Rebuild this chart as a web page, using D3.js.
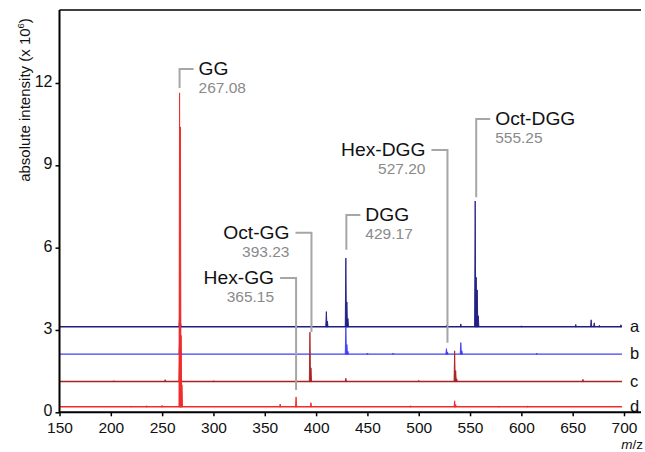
<!DOCTYPE html>
<html>
<head>
<meta charset="utf-8">
<script src="https://cdn.jsdelivr.net/npm/d3@7"></script>
<style>
  body { margin: 0; background: #fff; }
  svg { font-family: "Liberation Sans", Arial, sans-serif; }
  .trace { fill: none; stroke-width: 1.4; }
  .peak { stroke-width: 0.9; stroke-linejoin: round; }
  .lead { fill: none; stroke: #a6a6a6; stroke-width: 2; }
  .name { font-size: 17.5px; fill: #111; }
  .mass { font-size: 15.5px; fill: #8a8a8a; }
  .tick text { fill: #111; }
</style>
</head>
<body>
<div id="chart"></div>
<script>
// 数据
const traceNames = ["a", "b", "c", "d"];
const traceColors = ["#1e1e86", "#4040f4", "#a82222", "#f22a2a"];
const baselines = [3.12, 2.12, 1.12, 0.2];

// [m/z, 峰高(相对基线)]
const peaksA = [[267, 0.32], [268, 0.12], [410, 0.55], [411, 0.2], [429, 2.5], [430, 0.9], [431, 0.3],
    [527, 0.05], [541, 0.1], [555, 4.58], [556, 1.8], [557, 1.34], [558, 0.4],
    [600, 0.03], [653, 0.08], [668, 0.25], [671, 0.14], [676, 0.05], [697, 0.07]];
const peaksB = [[267, 0.45], [268, 0.15], [429, 0.98], [430, 0.35], [431, 0.1], [450, 0.04], [475, 0.03],
    [527, 0.2], [528, 0.08], [541, 0.42], [542, 0.12], [615, 0.03]];
const peaksC = [[203, 0.03], [253, 0.07], [267, 0.9], [268, 0.3], [300, 0.03], [394, 1.8], [395, 0.5],
    [429, 0.12], [500, 0.04], [535, 1.12], [536, 0.4], [537, 0.1], [660, 0.08]];
const peaksD = [[220, 0.03], [235, 0.04], [250, 0.05], [267, 11.44], [267.8, 10.2], [268.5, 2.6], [269.3, 0.8],
    [365, 0.1], [380.5, 0.36], [395, 0.15], [492, 0.04], [535, 0.22], [536, 0.08], [578, 0.03], [606, 0.02]];
const tracePeaks = [peaksA, peaksB, peaksC, peaksD];

const xTicks = [150, 200, 250, 300, 350, 400, 450, 500, 550, 600, 650, 700];
const yTicks = [0, 3, 6, 9, 12];

// 标注
const annNames = ["GG", "Oct-GG", "Hex-GG", "DGG", "Hex-DGG", "Oct-DGG"];
const annMasses = ["267.08", "393.23", "365.15", "429.17", "527.20", "555.25"];
const annMz = [267, 395.5, 380.5, 429.5, 528, 556];
const annTip = [11.82, 2.93, 0.81, 5.92, 2.53, 7.84];
const annElbow = [12.51, 6.54, 4.89, 7.19, 9.56, 10.69];
const annSide = ["right", "left", "left", "right", "left", "right"];

const width = 645;
const height = 452;

var svg = d3.select("#chart").append("svg")
    .attr("width", width).attr("height", height);

var x = d3.scaleLinear().domain([150, 700]).range([59.5, 624]);
var y = d3.scaleLinear().domain([0, 14.66]).range([412.3, 10]);

var xEnd = 641;

// 谱线
traceNames.forEach(function (name, i) {
    var g = svg.append("g").attr("class", "spectrum-" + name);
    var base = baselines[i];
    var col = traceColors[i];

    g.append("line")
        .attr("class", "trace")
        .attr("x1", x(150)).attr("x2", x(698))
        .attr("y1", y(base)).attr("y2", y(base))
        .attr("stroke", col);

    g.selectAll(".peak")
        .data(tracePeaks[i])
        .enter()
        .append("path")
        .attr("class", "peak")
        .attr("fill", col)
        .attr("stroke", col)
        .attr("d", function (d) {
            return "M" + x(d[0] - 0.6) + "," + y(base) +
                "L" + x(d[0]) + "," + y(base + d[1]) +
                "L" + x(d[0] + 0.6) + "," + y(base) + "Z";
        });

    svg.append("text")
        .attr("x", 630)
        .attr("y", y(base) + 5)
        .attr("font-size", "16.5px")
        .attr("fill", "#111")
        .text(name);
});

// 标注引线与文字
annNames.forEach(function (name, i) {
    var lx = x(annMz[i]);
    var ey = y(annElbow[i]);
    var ty = y(annTip[i]);
    var right = annSide[i] === "right";
    var hx = right ? lx + 14 : lx - 16;

    svg.append("path")
        .attr("class", "lead")
        .attr("d", "M" + hx + "," + ey + "L" + lx + "," + ey + "L" + lx + "," + ty);

    var tx = right ? lx + 19 : lx - 22;
    var anchor = right ? "start" : "end";

    svg.append("text")
        .attr("class", "name")
        .attr("text-anchor", anchor)
        .attr("transform", "translate(" + tx + "," + (ey + 6) + ") scale(1.1,1)")
        .text(name);

    svg.append("text")
        .attr("class", "mass")
        .attr("text-anchor", anchor)
        .attr("x", tx)
        .attr("y", ey + 24)
        .text(annMasses[i]);
});

// 坐标轴
var xAxis = svg.append("g")
    .attr("transform", "translate(0," + y(0) + ")")
    .call(d3.axisBottom(x).tickValues(xTicks).tickSize(4).tickPadding(6));
xAxis.select(".domain").remove();
xAxis.selectAll(".tick line").attr("stroke-width", 1.5);
xAxis.selectAll(".tick text").attr("font-size", "15.5px");

var yAxis = svg.append("g")
    .attr("transform", "translate(" + x(150) + ",0)")
    .call(d3.axisLeft(y).tickValues(yTicks).tickSize(4).tickPadding(3));
yAxis.select(".domain").remove();
yAxis.selectAll(".tick line").attr("stroke-width", 1.5);
yAxis.selectAll(".tick text").attr("font-size", "16px").attr("dy", "0.22em");

svg.append("path")
    .attr("fill", "none")
    .attr("stroke", "#000")
    .attr("stroke-width", 2)
    .attr("d", "M" + xEnd + "," + y(0) + "L" + x(150) + "," + y(0) + "L" + x(150) + "," + y(14.66));

svg.append("line")
    .attr("x1", x(150)).attr("x2", xEnd)
    .attr("y1", y(14.66)).attr("y2", y(14.66))
    .attr("stroke", "#000").attr("stroke-width", 1.5);

// 坐标轴标题
var yl = svg.append("text")
    .attr("transform", "translate(30,100) rotate(-90)")
    .attr("text-anchor", "middle")
    .attr("font-size", "15px")
    .attr("fill", "#111");
yl.append("tspan").text("absolute intensity (x 10");
yl.append("tspan").attr("font-size", "9.5px").attr("dy", "-6").text("6");
yl.append("tspan").attr("dy", "6").text(")");

var xl = svg.append("text")
    .attr("x", 643)
    .attr("y", 449)
    .attr("text-anchor", "end")
    .attr("font-size", "13.5px")
    .attr("fill", "#111");
xl.append("tspan").attr("font-style", "italic").text("m");
xl.append("tspan").text("/z");
</script>
</body>
</html>
